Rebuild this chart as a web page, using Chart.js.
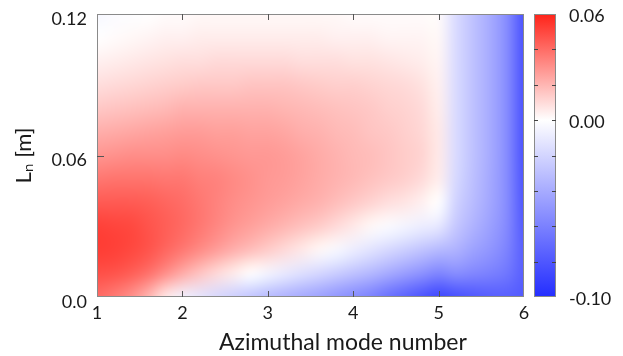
<!DOCTYPE html>
<html>
<head>
<meta charset="utf-8">
<script src="https://cdn.jsdelivr.net/npm/chart.js@4.4.1/dist/chart.umd.min.js"></script>
<style>
  html, body { margin: 0; padding: 0; background: #fff; }
</style>
</head>
<body>
<canvas id="map" width="623" height="356"></canvas>
<script>
// grid columns (azimuthal mode number) and rows (Ln in m)
const modes = [1.0, 1.2, 1.4, 1.6, 1.8, 2.0, 2.2, 2.4, 2.6, 2.8, 3.0, 3.2, 3.4,
               3.6, 3.8, 4.0, 4.2, 4.4, 4.6, 4.8, 5.0, 5.2, 5.4, 5.6, 5.8, 6.0];
const lnValues = [0.00, 0.01, 0.02, 0.03, 0.04, 0.05, 0.06, 0.07, 0.08, 0.09, 0.10, 0.11, 0.12];

// map values, one row per Ln value (bottom row first)
const rateRows = [
  [0.040, 0.036, 0.030, 0.020, 0.006, -0.006, -0.012, -0.018, -0.023, -0.028, -0.033, -0.037, -0.041, -0.045, -0.050, -0.055, -0.060, -0.068, -0.075, -0.082, -0.088, -0.084, -0.080, -0.077, -0.076, -0.078],
  [0.048, 0.047, 0.044, 0.039, 0.031, 0.023, 0.016, 0.010, 0.005, 0.000, -0.005, -0.010, -0.015, -0.019, -0.024, -0.029, -0.034, -0.040, -0.046, -0.052, -0.058, -0.054, -0.057, -0.060, -0.065, -0.076],
  [0.053, 0.052, 0.050, 0.047, 0.042, 0.037, 0.032, 0.027, 0.022, 0.018, 0.014, 0.010, 0.006, 0.002, -0.003, -0.008, -0.013, -0.018, -0.023, -0.028, -0.033, -0.036, -0.044, -0.050, -0.059, -0.076],
  [0.052, 0.051, 0.050, 0.047, 0.044, 0.041, 0.037, 0.033, 0.029, 0.026, 0.023, 0.020, 0.017, 0.014, 0.010, 0.006, 0.002, -0.002, -0.005, -0.008, -0.011, -0.026, -0.036, -0.045, -0.056, -0.078],
  [0.045, 0.045, 0.045, 0.044, 0.042, 0.040, 0.037, 0.034, 0.031, 0.029, 0.027, 0.025, 0.023, 0.021, 0.018, 0.015, 0.012, 0.009, 0.007, 0.004, 0.000, -0.021, -0.032, -0.042, -0.055, -0.080],
  [0.037, 0.038, 0.038, 0.038, 0.037, 0.037, 0.035, 0.034, 0.032, 0.030, 0.028, 0.027, 0.025, 0.023, 0.021, 0.019, 0.017, 0.015, 0.013, 0.010, 0.005, -0.018, -0.030, -0.041, -0.055, -0.081],
  [0.029, 0.030, 0.031, 0.031, 0.031, 0.032, 0.031, 0.030, 0.029, 0.028, 0.028, 0.027, 0.025, 0.023, 0.021, 0.019, 0.018, 0.016, 0.014, 0.012, 0.006, -0.017, -0.029, -0.040, -0.055, -0.082],
  [0.022, 0.023, 0.024, 0.025, 0.026, 0.027, 0.027, 0.026, 0.026, 0.025, 0.025, 0.024, 0.022, 0.021, 0.019, 0.018, 0.016, 0.015, 0.013, 0.011, 0.006, -0.017, -0.029, -0.040, -0.055, -0.082],
  [0.015, 0.016, 0.017, 0.018, 0.019, 0.021, 0.021, 0.021, 0.021, 0.021, 0.021, 0.020, 0.019, 0.018, 0.017, 0.016, 0.015, 0.013, 0.012, 0.010, 0.005, -0.017, -0.029, -0.040, -0.055, -0.082],
  [0.009, 0.010, 0.011, 0.012, 0.013, 0.014, 0.015, 0.015, 0.015, 0.016, 0.016, 0.016, 0.015, 0.014, 0.013, 0.013, 0.012, 0.011, 0.010, 0.008, 0.004, -0.017, -0.029, -0.040, -0.055, -0.082],
  [0.004, 0.005, 0.006, 0.007, 0.008, 0.009, 0.009, 0.010, 0.010, 0.010, 0.010, 0.010, 0.009, 0.009, 0.009, 0.008, 0.008, 0.007, 0.006, 0.005, 0.003, -0.017, -0.029, -0.040, -0.055, -0.082],
  [0.000, 0.001, 0.002, 0.003, 0.004, 0.004, 0.005, 0.005, 0.005, 0.005, 0.005, 0.005, 0.005, 0.005, 0.004, 0.004, 0.004, 0.003, 0.003, 0.003, 0.002, -0.017, -0.029, -0.040, -0.055, -0.082],
  [-0.004, -0.002, -0.001, 0.000, 0.001, 0.001, 0.002, 0.002, 0.002, 0.002, 0.002, 0.002, 0.002, 0.002, 0.002, 0.001, 0.001, 0.001, 0.001, 0.001, 0.001, -0.017, -0.029, -0.040, -0.055, -0.082]
];

const modeTicks = [1, 2, 3, 4, 5, 6];
const lnTicks = [0, 0.06, 0.12];
const colorTicks = [-0.10, 0.00, 0.06];
const colorMinor = [-0.08, -0.06, -0.04, -0.02, 0.00, 0.02, 0.04];
const colorMin = -0.10, colorMax = 0.06;

const RED = [255, 35, 25];
const BLUE = [35, 45, 255];
const FONT = 'Lato, "Open Sans", sans-serif';

function colorFor(v) {
  const c = v >= 0 ? RED : BLUE;
  const t = Math.min(v >= 0 ? v / colorMax : v / colorMin, 1);
  return c.map(ch => Math.round(255 + (ch - 255) * t));
}
const rgb = c => `rgb(${c[0]},${c[1]},${c[2]})`;

// fixed axis boxes, no extra label padding around the plot
function fixBox(size) {
  return s => {
    if (s.isHorizontal()) s.height = size; else s.width = size;
    s.paddingTop = 0; s.paddingBottom = 0; s.paddingLeft = 0; s.paddingRight = 0;
  };
}

// paints the grid (smoothly scaled) and the colour bar, positions come from the scales
const heatmap = {
  id: 'heatmap',
  beforeDatasetsDraw(chart) {
    const { ctx, chartArea: a, scales: { x, y } } = chart;
    const cols = modes.length, rows = lnValues.length;
    const off = document.createElement('canvas');
    off.width = cols;
    off.height = rows;
    const octx = off.getContext('2d');
    const img = octx.createImageData(cols, rows);
    rateRows.forEach((row, j) => row.forEach((v, i) => {
      const k = ((rows - 1 - j) * cols + i) * 4;
      const c = colorFor(v);
      img.data[k] = c[0];
      img.data[k + 1] = c[1];
      img.data[k + 2] = c[2];
      img.data[k + 3] = 255;
    }));
    octx.putImageData(img, 0, 0);

    const dx = (modes[1] - modes[0]) / 2, dy = (lnValues[1] - lnValues[0]) / 2;
    const x0 = x.getPixelForValue(modes[0] - dx);
    const x1 = x.getPixelForValue(modes[cols - 1] + dx);
    const y0 = y.getPixelForValue(lnValues[rows - 1] + dy);
    const y1 = y.getPixelForValue(lnValues[0] - dy);
    ctx.save();
    ctx.beginPath();
    ctx.rect(a.left, a.top, a.width, a.height);
    ctx.clip();
    ctx.imageSmoothingEnabled = true;
    ctx.imageSmoothingQuality = 'high';
    ctx.drawImage(off, x0, y0, x1 - x0, y1 - y0);
    ctx.restore();
  },
  afterDatasetsDraw(chart) {
    const { ctx, chartArea: a, scales: { x, y, cb } } = chart;
    ctx.save();
    // frame and inner ticks
    ctx.strokeStyle = '#8a8a8a';
    ctx.lineWidth = 1;
    ctx.strokeRect(a.left + 0.5, a.top + 0.5, a.width - 1, a.height - 1);
    ctx.strokeStyle = '#555';
    ctx.beginPath();
    modeTicks.slice(1, -1).forEach(v => {
      const px = Math.round(x.getPixelForValue(v)) + 0.5;
      ctx.moveTo(px, a.bottom); ctx.lineTo(px, a.bottom - 6);
      ctx.moveTo(px, a.top); ctx.lineTo(px, a.top + 6);
    });
    lnTicks.slice(1, -1).forEach(v => {
      const py = Math.round(y.getPixelForValue(v)) + 0.5;
      ctx.moveTo(a.left, py); ctx.lineTo(a.left + 7, py);
    });
    ctx.stroke();

    // colour bar
    const bx = a.right + 10, bw = 22;
    const top = cb.getPixelForValue(colorMax), bot = cb.getPixelForValue(colorMin);
    const zero = cb.getPixelForValue(0);
    const g = ctx.createLinearGradient(0, bot, 0, top);
    g.addColorStop(0, rgb(BLUE));
    g.addColorStop((bot - zero) / (bot - top), '#ffffff');
    g.addColorStop(1, rgb(RED));
    ctx.fillStyle = g;
    ctx.fillRect(bx, top, bw, bot - top);
    ctx.strokeStyle = '#8a8a8a';
    ctx.strokeRect(bx + 0.5, top + 0.5, bw - 1, bot - top - 1);
    ctx.strokeStyle = '#444';
    ctx.beginPath();
    colorMinor.forEach(v => {
      const py = Math.round(cb.getPixelForValue(v)) + 0.5;
      ctx.moveTo(bx, py); ctx.lineTo(bx + 4, py);
      ctx.moveTo(bx + bw, py); ctx.lineTo(bx + bw - 4, py);
    });
    ctx.stroke();
    ctx.restore();
  }
};

const gridData = [];
rateRows.forEach((row, j) => row.forEach((v, i) => gridData.push({ x: modes[i], y: lnValues[j], v: v })));

new Chart(document.getElementById('map'), {
  type: 'scatter',
  data: { datasets: [{ data: gridData, pointRadius: 0, pointHoverRadius: 0 }] },
  options: {
    responsive: false,
    animation: false,
    events: [],
    layout: { padding: { top: 14, left: 0, right: 0, bottom: 0 } },
    plugins: { legend: { display: false }, tooltip: { enabled: false } },
    scales: {
      x: {
        type: 'linear', min: 1, max: 6,
        afterBuildTicks: s => { s.ticks = modeTicks.map(v => ({ value: v })); },
        afterFit: fixBox(59),
        grid: { display: false, drawTicks: false },
        border: { display: false },
        ticks: { font: { family: FONT, size: 18 }, color: '#1a1a1a', padding: 5, maxRotation: 0, callback: v => String(v) },
        title: { display: true, text: '           Azimuthal mode number', color: '#1a1a1a', font: { family: FONT, size: 23 }, padding: { top: 0, bottom: 0 } }
      },
      y: {
        type: 'linear', min: 0, max: 0.12,
        afterBuildTicks: s => { s.ticks = lnTicks.map(v => ({ value: v })); },
        afterFit: fixBox(97),
        grid: { display: false, drawTicks: false },
        border: { display: false },
        ticks: { font: { family: FONT, size: 18 }, color: '#1a1a1a', padding: 10, labelOffset: 5, callback: v => v === 0 ? '0.0' : v.toFixed(2) },
        title: { display: true, text: 'Lₙ [m]', color: '#1a1a1a', font: { family: FONT, size: 22 }, padding: { top: 11, bottom: 0 } }
      },
      cb: {
        type: 'linear', position: 'right', min: colorMin, max: colorMax,
        afterBuildTicks: s => { s.ticks = colorTicks.map(v => ({ value: v })); },
        afterFit: fixBox(99),
        grid: { display: false, drawTicks: false },
        border: { display: false },
        ticks: { font: { family: FONT, size: 18 }, color: '#1a1a1a', padding: 45, labelOffset: 2, callback: v => v.toFixed(2) }
      }
    }
  },
  plugins: [heatmap]
});
</script>
</body>
</html>
